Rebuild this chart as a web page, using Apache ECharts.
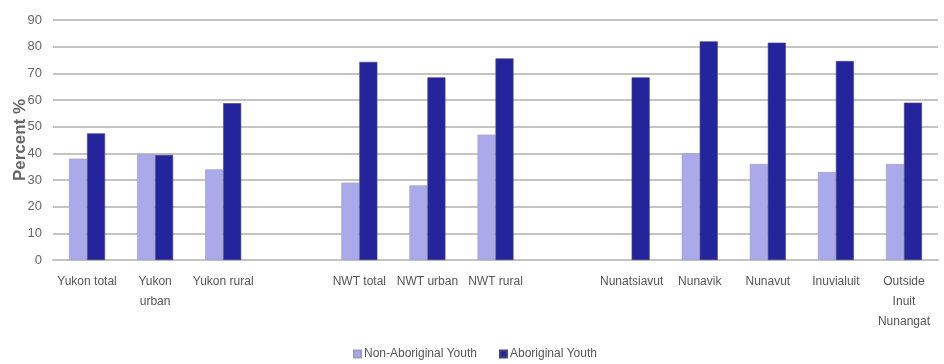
<!DOCTYPE html>
<html>
<head>
<meta charset="utf-8">
<style>
  html, body { margin: 0; padding: 0; background: #fff; }
  #chart { width: 944px; height: 364px; }
</style>
<script src="https://cdn.jsdelivr.net/npm/echarts@6/dist/echarts.min.js"></script>
</head>
<body>
<div id="chart"></div>
<script>
// Regions, with blank slots separating the three territories
const categories = [
  'Yukon total', 'Yukon\nurban', 'Yukon rural', '',
  'NWT total', 'NWT urban', 'NWT rural', '',
  'Nunatsiavut', 'Nunavik', 'Nunavut', 'Inuvialuit', 'Outside\nInuit\nNunangat'
];
const nonAboriginal = [38, 39.7, 34, null, 29, 28, 47, null, null, 40, 36, 33, 36];
const aboriginal = [47.5, 39.4, 58.8, null, 74.3, 68.5, 75.6, null, 68.5, 82, 81.5, 74.6, 59];
const yTicks = { min: 0, max: 90, interval: 10 };

const chart = echarts.init(document.getElementById('chart'), null, { renderer: 'canvas' });
const font = 'Liberation Sans, Arial, sans-serif';

chart.setOption({
  animation: false,
  grid: { left: 53, right: 6, top: 20, bottom: 104, containLabel: false, outerBoundsMode: 'none' },
  legend: {
    left: 353, top: 348, padding: 0,
    itemWidth: 7, itemHeight: 7, itemGap: 22,
    icon: 'rect',
    textStyle: { color: '#555', fontSize: 12, fontFamily: font, padding: [0, 0, 0, -2] },
    data: ['Non-Aboriginal Youth', 'Aboriginal Youth']
  },
  xAxis: {
    type: 'category',
    data: categories,
    axisTick: { show: false },
    axisLine: { lineStyle: { color: '#c4c4c4', width: 2 } },
    axisLabel: {
      interval: 0, color: '#555', fontSize: 12, fontFamily: font,
      margin: 12, lineHeight: 20
    }
  },
  yAxis: {
    type: 'value',
    min: yTicks.min, max: yTicks.max, interval: yTicks.interval,
    name: 'Percent %',
    nameLocation: 'middle',
    nameGap: 24,
    nameMoveOverlap: false,
    nameTextStyle: { color: '#666', fontSize: 17, fontWeight: 'bold', fontFamily: font },
    axisLabel: { color: '#666', fontSize: 13, fontFamily: font, margin: 11 },
    axisLine: { show: false },
    axisTick: { show: false },
    splitLine: { lineStyle: { color: '#c4c4c4', width: 2 } }
  },
  series: [
    {
      name: 'Non-Aboriginal Youth',
      type: 'bar',
      data: nonAboriginal,
      barWidth: 18,
      barGap: '0%',
      itemStyle: { color: '#aaaaea', borderColor: '#9c9cc8', borderWidth: 0.6 }
    },
    {
      name: 'Aboriginal Youth',
      type: 'bar',
      data: aboriginal,
      barWidth: 18,
      barGap: '0%',
      itemStyle: { color: '#24249c', borderColor: '#45457a', borderWidth: 0.6 }
    }
  ]
});
</script>
</body>
</html>
